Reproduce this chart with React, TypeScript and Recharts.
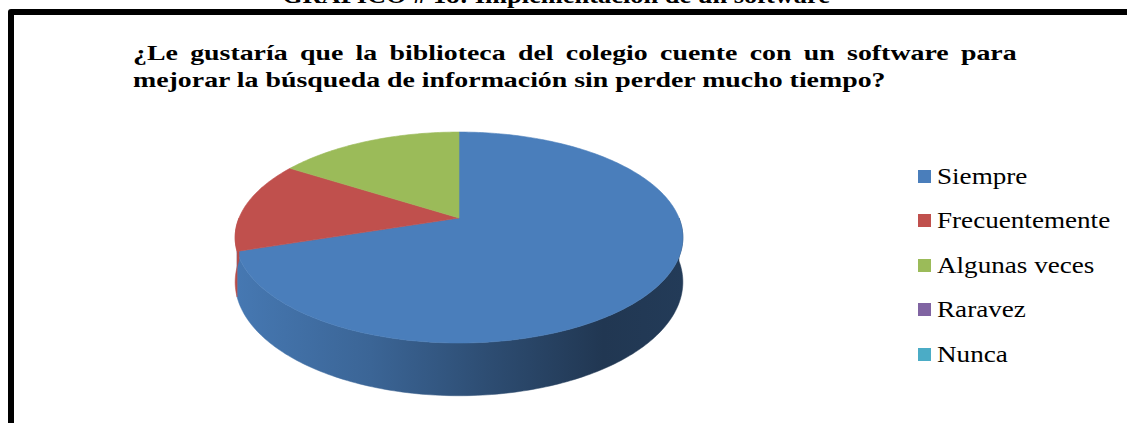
import { PieChart, Pie, Legend } from 'recharts';

const categories = ['Siempre', 'Frecuentemente', 'Algunas veces', 'Raravez', 'Nunca'];
const values = [35, 7, 8, 0, 0];
const colors = ['#4A7EBB', '#C0504D', '#9BBB59', '#8064A2', '#4BACC6'];

const data = categories.map((name, i) => ({ name, value: values[i], fill: colors[i] }));

const serif = '"Liberation Serif", "Times New Roman", serif';

// fake 3D: perspective squash of the pie disc
const PERSP = 0.185;
const TILT = 0.463;
const DEPTH = 43;

function proj(cx: number, cy: number, r: number, deg: number, drop = 0) {
    const t = (deg * Math.PI) / 180;
    const s = 1 / (1 + PERSP * Math.sin(t));
    return [cx + r * Math.cos(t) * s, cy - r * TILT * Math.sin(t) * s + drop * s];
}

function arcPts(cx: number, cy: number, r: number, from: number, to: number, drop = 0) {
    const n = Math.max(2, Math.ceil(Math.abs(to - from)));
    const pts: string[] = [];
    for (let i = 0; i <= n; i++) {
        const [x, y] = proj(cx, cy, r, from + ((to - from) * i) / n, drop);
        pts.push(`${x.toFixed(2)},${y.toFixed(2)}`);
    }
    return pts;
}

function shade(hex: string, f: number) {
    const n = parseInt(hex.slice(1), 16);
    const c = [(n >> 16) & 255, (n >> 8) & 255, n & 255].map((v) => Math.round(v * f));
    return `rgb(${c.join(',')})`;
}

// drawn from the label hook so it gets the sector geometry from the Pie
function Slice3D(props: any) {
    const { cx, cy, outerRadius, startAngle, endAngle, index } = props;
    const lo = Math.min(startAngle, endAngle);
    const hi = Math.max(startAngle, endAngle);
    if (hi - lo < 0.01) return <g />;
    const col = colors[index];

    // front wall: parts of the slice in the lower half of the disc
    const walls: string[] = [];
    for (const k of [-1, 0, 1]) {
        const a = Math.max(lo, -180 + 360 * k);
        const b = Math.min(hi, 360 * k);
        if (b - a > 0.01) {
            const top = arcPts(cx, cy, outerRadius, a, b);
            const bottom = arcPts(cx, cy, outerRadius, b, a, DEPTH);
            walls.push(`M${top.join('L')}L${bottom.join('L')}Z`);
        }
    }
    const face = `M${cx},${cy}L${arcPts(cx, cy, outerRadius, lo, hi).join('L')}Z`;

    return (
        <g>
            {walls.map((d, j) => (
                <path key={j} d={d} fill={`url(#wall${index})`} stroke={`url(#wall${index})`} strokeWidth={0.5} />
            ))}
            <path d={face} fill={col} stroke={col} strokeWidth={0.6} />
        </g>
    );
}

function LegendBox(props: any) {
    const payload = [...(props.payload || [])].sort(
        (a: any, b: any) => categories.indexOf(a.value) - categories.indexOf(b.value)
    );
    return (
        <div style={{ fontFamily: serif, fontSize: 24, color: '#000' }}>
            {payload.map((p: any) => (
                <div key={p.value} style={{ height: 44.5, display: 'flex', alignItems: 'center' }}>
                    <span style={{ width: 13, height: 13, background: p.color, marginRight: 6, flexShrink: 0 }} />
                    <span style={{ display: 'inline-block', transform: 'scaleX(1.13)', transformOrigin: 'left center', whiteSpace: 'nowrap' }}>
                        {p.value}
                    </span>
                </div>
            ))}
        </div>
    );
}

export default function App() {
    return (
        <div style={{ position: 'absolute', left: 0, top: 0, width: 1127, height: 423, overflow: 'hidden', background: '#fff' }}>
            <div
                style={{
                    position: 'absolute',
                    left: 556,
                    top: -17,
                    transform: 'translateX(-50%) scaleX(1.1)',
                    fontFamily: serif,
                    fontWeight: 'bold',
                    fontSize: 24,
                    lineHeight: '24px',
                    whiteSpace: 'nowrap',
                }}
            >
                GRÁFICO # 18: Implementación de un software
            </div>
            <div
                style={{
                    position: 'absolute',
                    left: 8,
                    top: 9,
                    width: 1200,
                    height: 500,
                    border: '6px solid #000',
                    borderRadius: 3,
                }}
            />
            <div
                style={{
                    position: 'absolute',
                    left: 133,
                    top: 39,
                    width: 698,
                    transform: 'scaleX(1.266)',
                    transformOrigin: 'left top',
                    fontFamily: serif,
                    fontWeight: 'bold',
                    fontSize: 22,
                    lineHeight: '27px',
                    whiteSpace: 'nowrap',
                }}
            >
                <div style={{ textAlign: 'justify', textAlignLast: 'justify', whiteSpace: 'normal' }}>
                    ¿Le gustaría que la biblioteca del colegio cuente con un software para
                </div>
                <div>mejorar la búsqueda de información sin perder mucho tiempo?</div>
            </div>
            <div style={{ position: 'absolute', left: 0, top: 0 }}>
                <PieChart width={1127} height={423} margin={{ top: 0, right: 0, bottom: 0, left: 0 }}>
                    <defs>
                        {colors.map((c, i) => (
                            <linearGradient key={i} id={`wall${i}`} gradientUnits="userSpaceOnUse" x1={236} y1={0} x2={684} y2={0}>
                                <stop offset="0%" stopColor={shade(c, 0.95)} />
                                <stop offset="30%" stopColor={shade(c, 0.8)} />
                                <stop offset="55%" stopColor={shade(c, 0.62)} />
                                <stop offset="82%" stopColor={shade(c, 0.44)} />
                                <stop offset="100%" stopColor={shade(c, 0.47)} />
                            </linearGradient>
                        ))}
                    </defs>
                    <Pie
                        data={data}
                        dataKey="value"
                        nameKey="name"
                        cx={459}
                        cy={218}
                        outerRadius={220}
                        startAngle={90}
                        endAngle={-270}
                        fillOpacity={0}
                        stroke="none"
                        label={Slice3D}
                        labelLine={false}
                        isAnimationActive={false}
                        legendType="square"
                    />
                    <Legend
                        content={LegendBox}
                        layout="vertical"
                        wrapperStyle={{ position: 'absolute', left: 918, top: 153.75, width: 209 }}
                    />
                </PieChart>
            </div>
        </div>
    );
}
